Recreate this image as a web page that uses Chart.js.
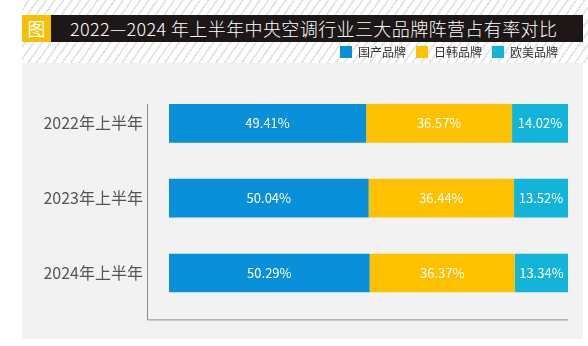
<!DOCTYPE html>
<html>
<head>
<meta charset="utf-8">
<script src="https://cdn.jsdelivr.net/npm/chart.js@4.4.1/dist/chart.umd.min.js"></script>
<style>
  body { margin: 0; background: #fff; }
  #wrap { position: relative; width: 588px; height: 346px; overflow: hidden; font-family: "Noto Sans CJK SC", sans-serif; }
  #stripes { position: absolute; left: 22px; top: 0; width: 566px; height: 63px;
    background: repeating-linear-gradient(125deg, #fff 0px, #fff 5px, #e6e6e6 5px, #e6e6e6 7px); }
  #panel { position: absolute; left: 22px; top: 63px; width: 561px; height: 276px; background: #f2f2f2; }
  #titlebar { position: absolute; left: 51px; top: 15px; width: 532px; height: 27px; background: #1d1717;
    color: #fff; font-size: 18px; font-weight: 300; letter-spacing: 0.4px; line-height: 27px; padding-left: 19px; box-sizing: border-box; white-space: nowrap; }
  #tag { position: absolute; left: 22px; top: 15px; width: 29px; height: 27px; background: #f6c000;
    color: #fff; font-size: 18px; line-height: 27px; text-align: center; }
  canvas { position: absolute; left: 0; top: 0; }
</style>
</head>
<body>
<div id="wrap">
  <div id="stripes"></div>
  <div id="panel"></div>
  <div id="tag">图</div>
  <div id="titlebar">2022—2024 年上半年中央空调行业三大品牌阵营占有率对比</div>
  <canvas id="shareChart" width="588" height="346"></canvas>
</div>
<script>
// 数据
var categories = ['2022年上半年', '2023年上半年', '2024年上半年'];
var seriesNames = ['国产品牌', '日韩品牌', '欧美品牌'];
var domestic = [49.41, 50.04, 50.29];
var japanKorea = [36.57, 36.44, 36.37];
var euroUS = [14.02, 13.52, 13.34];
var seriesColors = ['#0a8fd9', '#fdc100', '#12b4d9'];

// 数值标签
var valueLabels = {
    id: 'valueLabels',
    afterDatasetsDraw: function(chart) {
        var ctx = chart.ctx;
        ctx.save();
        ctx.fillStyle = '#fff';
        ctx.font = '13px "Noto Sans CJK SC", sans-serif';
        ctx.textAlign = 'center';
        ctx.textBaseline = 'middle';
        chart.data.datasets.forEach(function(ds, i) {
            chart.getDatasetMeta(i).data.forEach(function(bar, j) {
                ctx.fillText(ds.data[j].toFixed(2) + '%', (bar.x + bar.base) / 2, bar.y);
            });
        });
        ctx.restore();
    }
};

// 坐标轴线
var axisLines = {
    id: 'axisLines',
    beforeDatasetsDraw: function(chart) {
        var a = chart.chartArea, ctx = chart.ctx;
        ctx.save();
        ctx.strokeStyle = '#8a8a8a';
        ctx.lineWidth = 1;
        ctx.beginPath();
        ctx.moveTo(a.left - 21.5, a.top + 18);
        ctx.lineTo(a.left - 21.5, a.bottom + 9.5);
        ctx.lineTo(a.right, a.bottom + 9.5);
        ctx.stroke();
        ctx.restore();
    }
};

// 图例下方留白
var legendGap = {
    id: 'legendGap',
    beforeInit: function(chart) {
        var fit = chart.legend.fit;
        chart.legend.fit = function() {
            fit.bind(chart.legend)();
            this.height = 50;
        };
    }
};

var ctx = document.getElementById('shareChart').getContext('2d');
var myChart = new Chart(ctx, {
    type: 'bar',
    data: {
        labels: categories,
        datasets: [
            { label: seriesNames[0], data: domestic, backgroundColor: seriesColors[0] },
            { label: seriesNames[1], data: japanKorea, backgroundColor: seriesColors[1] },
            { label: seriesNames[2], data: euroUS, backgroundColor: seriesColors[2] }
        ]
    },
    options: {
        indexAxis: 'y',
        responsive: false,
        animation: false,
        layout: { padding: { top: 36, right: 20, bottom: 34, left: 0 } },
        datasets: { bar: { categoryPercentage: 1, barPercentage: 0.517 } },
        plugins: {
            legend: {
                position: 'top',
                align: 'end',
                labels: {
                    boxWidth: 12,
                    boxHeight: 12,
                    padding: 10,
                    color: '#333',
                    font: { family: '"Noto Sans CJK SC"', size: 12 }
                }
            },
            tooltip: { enabled: false }
        },
        scales: {
            x: { stacked: true, min: 0, max: 100, display: false },
            y: {
                stacked: true,
                grid: { display: false, drawTicks: false },
                border: { display: false },
                ticks: {
                    padding: 26,
                    color: '#555',
                    font: { family: '"Noto Sans CJK SC"', size: 16 }
                },
                afterFit: function(scale) { scale.width = 169; }
            }
        }
    },
    plugins: [valueLabels, axisLines, legendGap]
});
</script>
</body>
</html>
